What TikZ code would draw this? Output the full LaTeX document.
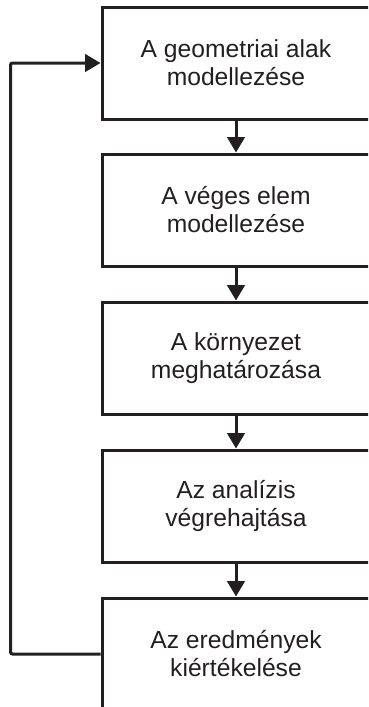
\documentclass[tikz,border=0pt]{standalone}
\usepackage{fontspec}
\setmainfont{Liberation Sans}
\usepackage{tikz}
\usetikzlibrary{arrows.meta,positioning}
\definecolor{inkblack}{HTML}{231F20}

\begin{document}
\begin{tikzpicture}[
  x=0.75pt,y=-0.75pt,
  stage/.style={draw=inkblack,line width=2.25pt,minimum width=201pt,minimum height=84pt,
                align=center,font=\fontsize{18.5}{21}\selectfont,text=inkblack,inner sep=0pt},
  arr/.style={-{Triangle[length=11.5pt,width=13pt]},line width=2.25pt,color=inkblack},
]
  \useasboundingbox (0,0) rectangle (368,707);
  \clip (0,0) rectangle (368,707);

  \node[stage] (geo) at (236,63) {A geometriai alak\\modellezése};
  \node[stage] (fem) at (236,210) {A véges elem\\modellezése};
  \node[stage] (env) at (236,358) {A környezet\\meghatározása};
  \node[stage] (ana) at (236,506) {Az analízis\\végrehajtása};
  \node[stage] (res) at (236,654) {Az eredmények\\kiértékelése};

  \draw[arr] (geo) -- (fem);
  \draw[arr] (fem) -- (env);
  \draw[arr] (env) -- (ana);
  \draw[arr] (ana) -- (res);

  % feedback loop
  \draw[arr,rounded corners=1.5pt] (res.west) -- ++(-90,0) |- (geo.west);
\end{tikzpicture}
\end{document}
